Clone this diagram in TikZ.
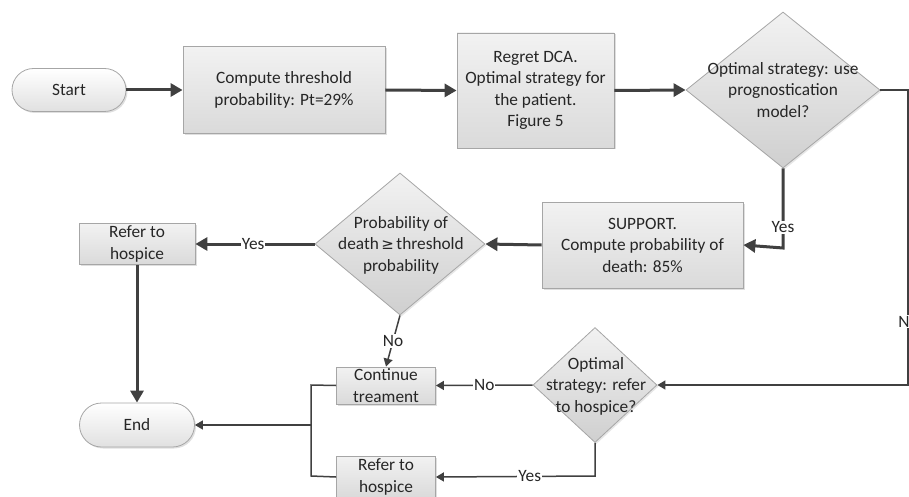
\documentclass[tikz,border=0pt]{standalone}
\usepackage{fontspec}
\setmainfont{Carlito}
\usetikzlibrary{shapes.geometric,shapes.misc,arrows.meta,shadows,calc}
\definecolor{linec}{HTML}{404040}
\definecolor{bordc}{HTML}{A6A6A6}
\definecolor{fillb}{HTML}{DADADA}
\definecolor{fillt}{HTML}{F2F2F2}
\begin{document}
\begin{tikzpicture}[x=1pt,y=-1pt,
  every node/.style={font=\fontsize{17.3}{21.5}\selectfont, text=black!85},
  boxst/.style={rectangle, draw=bordc, line width=0.8pt, top color=fillt, bottom color=fillb,
     drop shadow={shadow xshift=1.5pt, shadow yshift=-1.5pt, opacity=0.25}, inner sep=0pt, align=center},
  termst/.style={rounded rectangle, draw=bordc, line width=0.8pt, top color=white, bottom color=white!88!black,
     drop shadow={shadow xshift=1.5pt, shadow yshift=-1.5pt, opacity=0.25}, inner sep=0pt, align=center},
  diast/.style={diamond, draw=bordc, line width=0.8pt, top color=fillt, bottom color=fillb!95!black,
     drop shadow={shadow xshift=1.5pt, shadow yshift=-1.5pt, opacity=0.2}, inner sep=0pt},
  txtst/.style={align=center, inner sep=0pt},
  thickar/.style={draw=linec, line width=3pt, -{Triangle[length=12pt,width=13pt]}},
  thinar/.style={draw=linec, line width=1.5pt, -{Triangle[length=8pt,width=9pt]}},
  thinln/.style={draw=linec, line width=1.5pt},
  lab/.style={fill=white, inner sep=1pt}
]
\useasboundingbox (0,0) rectangle (909,497);

% nodes
\node[termst, minimum width=114pt, minimum height=43pt] (start) at (69,90) {Start};
\node[boxst, minimum width=202pt, minimum height=87pt] (comp) at (284,90) {Compute threshold\\probability: Pt=29\%};
\node[boxst, minimum width=157pt, minimum height=115pt] (regret) at (535.5,90.5) {Regret DCA.\\Optimal strategy for\\the patient.\\Figure 5};
\node[diast, minimum width=194pt, minimum height=156pt] (d1) at (783,90) {};
\node[txtst] (d1t) at (783,90) {Optimal strategy: use\\prognostication\\model?};
\node[boxst, minimum width=201pt, minimum height=86pt] (supp) at (642.5,245) {SUPPORT.\\Compute probability of\\death: 85\%};
\node[diast, minimum width=170pt, minimum height=142pt] (d2) at (400,244) {};
\node[txtst] (d2t) at (401,245) {Probability of\\death{\fontspec{DejaVu Sans}\fontsize{15}{15}\selectfont\,≥\,}threshold\\probability};
\node[boxst, minimum width=116pt, minimum height=41pt] (ref1) at (137,244) {Refer to\\hospice};
\node[termst, minimum width=115pt, minimum height=44pt] (endn) at (137,425) {End};
\node[boxst, minimum width=99pt, minimum height=37pt] (cont) at (386,385.5) {Continue\\treament};
\node[diast, minimum width=124pt, minimum height=115pt] (d3) at (595,385) {};
\node[txtst] (d3t) at (596,386) {Optimal\\strategy: refer\\to hospice?};
\node[boxst, minimum width=99pt, minimum height=42pt] (ref2) at (386,477) {Refer to\\hospice};

\coordinate (c1) at (908,90);
\coordinate (c2) at (908,385);
\coordinate (c3) at (783,248);
\coordinate (c4) at (595,476);
\coordinate (j1) at (311,385);
\coordinate (j2) at (311,476);
\coordinate (j3) at (311,425);

% connectors
\draw[thickar] (start.east) -- (comp.west);
\draw[thickar] (comp.east) -- (regret.west);
\draw[thickar] (regret.east) -- (d1.west);
\draw[thickar] (d1.south) -- node[lab, pos=0.74] {Yes} (c3) -- (supp.east);
\draw[thickar] (supp.west) -- (d2.east);
\draw[thickar] (d2.west) -- node[lab, pos=0.515] {Yes} (ref1.east);
\draw[thickar] (ref1.south) -- (endn.north);
\draw[thinar] (d2.south) -- node[lab, pos=0.5] {No} (cont.north);
\draw[thinar] (d1.east) -- (c1) -- node[lab, pos=0.785, xshift=-4pt] {N} (c2) -- (d3.east);
\draw[thinar] (d3.west) -- node[lab, pos=0.5] {No} (cont.east);
\draw[thinar] (d3.south) -- (c4) -- node[lab, pos=0.41] {Yes} (ref2.east);
\draw[thinln] (cont.west) -- (j1) -- (j2) -- (ref2.west);
\draw[thinar] (j3) -- (endn.east);
\end{tikzpicture}
\end{document}
